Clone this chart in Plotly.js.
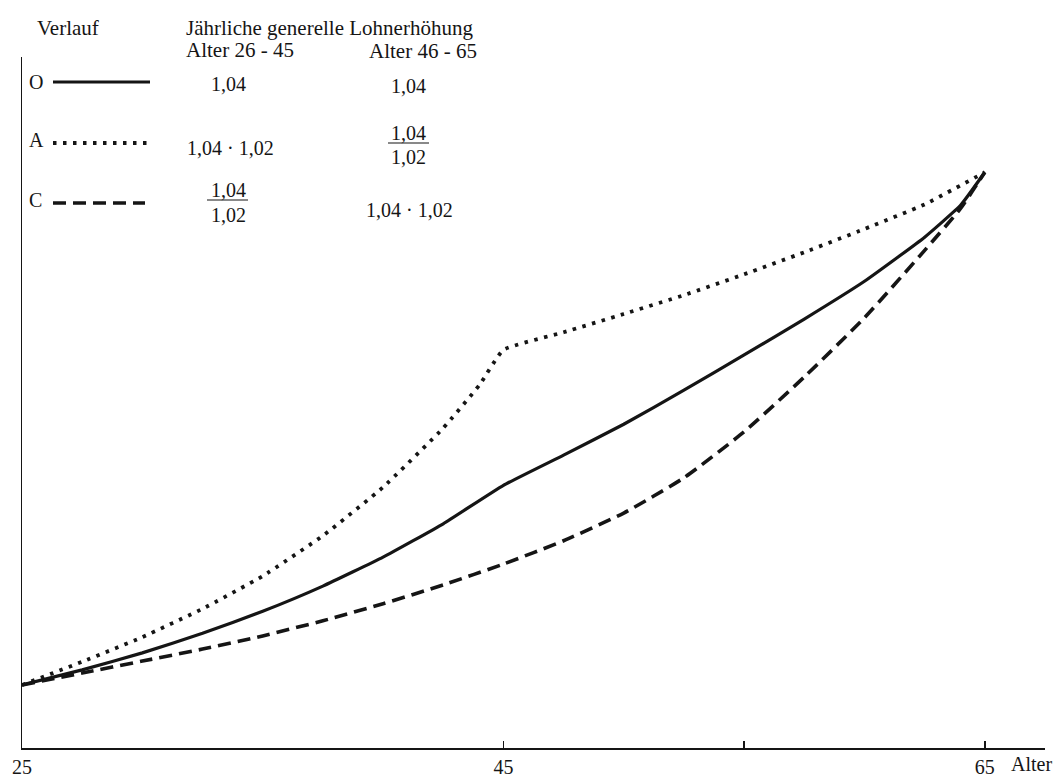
<!DOCTYPE html>
<html>
<head>
<meta charset="utf-8">
<script src="https://cdn.plot.ly/plotly-3.0.1.min.js"></script>
<style>html,body{margin:0;padding:0;background:#fff;}#chart{width:1058px;height:779px;}</style>
</head>
<body>
<div id="chart"></div>
<script>
// Ages (Alter)
const agesO = [25, 27.5, 30, 32.5, 35, 37.5, 40, 42.5, 45, 47.5, 50, 52.5, 55, 57.5, 60, 62.5, 64, 65];
const agesA = [25, 27.5, 30, 32.5, 35, 37.5, 40, 42.5, 44, 45, 47.5, 50, 52.5, 55, 57.5, 60, 62.5, 65];
const agesC = [25, 27.5, 30, 32.5, 35, 37.5, 40, 42.5, 45, 47.5, 50, 52.5, 55, 57.5, 60, 62.5, 64, 65];
// Relative salary level (start = 1)
const valuesO = [1.00, 1.24, 1.51, 1.82, 2.17, 2.57, 3.03, 3.56, 4.17, 4.65, 5.14, 5.68, 6.24, 6.81, 7.41, 8.11, 8.62, 9.14];
const valuesA = [1.00, 1.37, 1.76, 2.21, 2.73, 3.37, 4.14, 5.08, 5.76, 6.32, 6.60, 6.89, 7.19, 7.52, 7.87, 8.24, 8.63, 9.14];
const valuesC = [1.00, 1.19, 1.38, 1.57, 1.78, 2.02, 2.29, 2.59, 2.92, 3.29, 3.73, 4.29, 5.02, 5.89, 6.83, 7.90, 8.57, 9.14];
// Tick labels
const tickValues = [25, 45, 55, 65];
const tickLabels = ['25', '45', '', '65'];
// Legend / table texts
const seriesNames = ['O', 'A', 'C'];
const headerTexts = ['Verlauf', 'Jährliche generelle Lohnerhöhung', 'Alter 26 - 45', 'Alter 46 - 65'];

const FONT = 'Liberation Serif, Times New Roman, serif';
const INK = '#151515';
const L = 22, T = 57, W = 1023, H = 691;
function px(x) { return (x - L) / W; }
function py(y) { return (T + H - y) / H; }

const lineStyles = {
  O: {color: INK, width: 3.2, dash: 'solid'},
  A: {color: INK, width: 3.8, dash: '3.5px,6.5px'},
  C: {color: INK, width: 3.6, dash: '13px,7px'}
};

const traces = [
  {x: agesO, y: valuesO, name: seriesNames[0], mode: 'lines', line: Object.assign({shape: 'spline', smoothing: 0.4}, lineStyles.O)},
  {x: agesA, y: valuesA, name: seriesNames[1], mode: 'lines', line: Object.assign({shape: 'spline', smoothing: 0.4}, lineStyles.A)},
  {x: agesC, y: valuesC, name: seriesNames[2], mode: 'lines', line: Object.assign({shape: 'spline', smoothing: 0.5}, lineStyles.C)}
];

function ann(text, x, y, size, xanchor) {
  return {text: text, xref: 'paper', yref: 'paper', x: px(x), y: py(y),
    xanchor: xanchor || 'center', yanchor: 'middle', showarrow: false,
    font: {family: FONT, size: size || 20, color: INK}};
}

const annotations = [
  ann(headerTexts[0], 35, 28, 21, 'left'),
  ann(headerTexts[1], 184, 28, 21, 'left'),
  ann(headerTexts[2], 184, 50, 21, 'left'),
  ann(headerTexts[3], 367, 51, 21, 'left'),
  ann(seriesNames[0], 27, 82, 20, 'left'),
  ann(seriesNames[1], 27, 140, 20, 'left'),
  ann(seriesNames[2], 27, 200, 20, 'left'),
  // row O
  ann('1,04', 228, 84),
  ann('1,04', 408, 86),
  // row A
  ann('1,04 · 1,02', 230, 148),
  ann('1,04', 408, 133),
  ann('1,02', 408, 157),
  // row C
  ann('1,04', 228, 190),
  ann('1,02', 228, 215),
  ann('1,04 · 1,02', 409, 210),
  // axis title
  ann('Alter', 1031, 764, 20)
];

function seg(x0, x1, y, style) {
  return {type: 'line', xref: 'paper', yref: 'paper', x0: px(x0), x1: px(x1), y0: py(y), y1: py(y),
    line: {color: style.color, width: style.width, dash: style.dash}};
}

const shapes = [
  seg(53, 150, 82, lineStyles.O),
  seg(53, 147, 143, lineStyles.A),
  seg(53, 145, 203, lineStyles.C),
  seg(388, 429, 143, {color: INK, width: 1.2, dash: 'solid'}),
  seg(207, 248, 200, {color: INK, width: 1.2, dash: 'solid'})
];

const layout = {
  width: 1058, height: 779,
  margin: {l: L, r: 1058 - L - W, t: T, b: 779 - T - H, pad: 0},
  paper_bgcolor: '#ffffff', plot_bgcolor: '#ffffff',
  showlegend: false,
  font: {family: FONT, size: 20, color: INK},
  xaxis: {
    range: [25, 67.5], showline: true, linecolor: INK, linewidth: 1.5,
    showgrid: false, zeroline: false,
    ticks: 'inside', ticklen: 7, tickwidth: 1.5, tickcolor: INK,
    tickmode: 'array', tickvals: tickValues, ticktext: tickLabels,
    tickfont: {family: FONT, size: 20, color: INK}
  },
  yaxis: {
    range: [0, 10.97], showline: true, linecolor: INK, linewidth: 1.5,
    showgrid: false, zeroline: false, ticks: '', showticklabels: false
  },
  annotations: annotations,
  shapes: shapes
};

Plotly.newPlot('chart', traces, layout, {displayModeBar: false, staticPlot: true});
</script>
</body>
</html>
